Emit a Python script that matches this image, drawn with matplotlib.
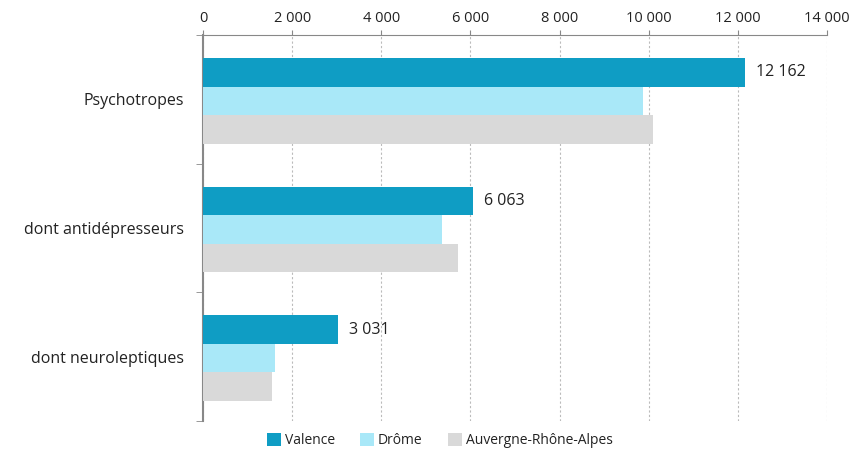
import matplotlib.pyplot as plt
import numpy as np

categories = ["Psychotropes", "dont antidépresseurs", "dont neuroleptiques"]
series = ["Valence", "Drôme", "Auvergne-Rhône-Alpes"]
valence = [12162, 6063, 3031]
drome = [9870, 5360, 1615]
ara = [10100, 5720, 1550]
colors = ["#0F9DC4", "#A9E8F8", "#D9D9D9"]

plt.rcParams['font.family'] = ['Open Sans', 'DejaVu Sans']

fig = plt.figure(figsize=(8.49, 4.51), dpi=100)
ax = fig.add_axes([203 / 849, 1 - 421 / 451, 624 / 849, 386 / 451])

y = np.arange(len(categories))
h = 0.222
for i, (name, vals, c) in enumerate(zip(series, [valence, drome, ara], colors)):
    ax.barh(y + (i - 1) * h + 0.012, vals, height=h, color=c, label=name, zorder=3)

for yi, v in zip(y, valence):
    ax.text(v + 250, yi - h + 0.012, f"{v:,}".replace(",", " "),
            va="center", ha="left", fontsize=11.5, color="#222222")

ax.set_xlim(0, 14000)
ax.set_ylim(2.5, -0.5)
ax.xaxis.tick_top()
xt = np.arange(0, 14001, 2000)
ax.set_xticks(xt)
ax.set_xticklabels([f"{v:,}".replace(",", " ") for v in xt], fontsize=10.5)
ax.tick_params(axis="x", length=3.5, pad=3, colors="#888888", labelcolor="#222222")
ax.grid(axis="x", linestyle=(0, (2, 2)), color="#BBBBBB", linewidth=0.8, zorder=0)

ax.set_yticks(y)
ax.set_yticklabels(categories, fontsize=11.5, color="#222222")
ax.tick_params(axis="y", length=0, pad=14)
ax.set_yticks([-0.5, 0.5, 1.5, 2.5], minor=True)
ax.tick_params(axis="y", which="minor", length=5, color="#888888")

for s in ["right", "bottom"]:
    ax.spines[s].set_visible(False)
ax.spines["top"].set_color("#888888")
ax.spines["left"].set_color("#888888")
ax.spines["left"].set_linewidth(1.5)

fig.legend(loc="lower center", bbox_to_anchor=(0.518, -0.022), ncol=3, frameon=False,
           fontsize=10, handlelength=1.0, handleheight=1.0, columnspacing=1.8,
           handletextpad=0.3, labelcolor="#222222")

fig.savefig("out.png", dpi=100)
